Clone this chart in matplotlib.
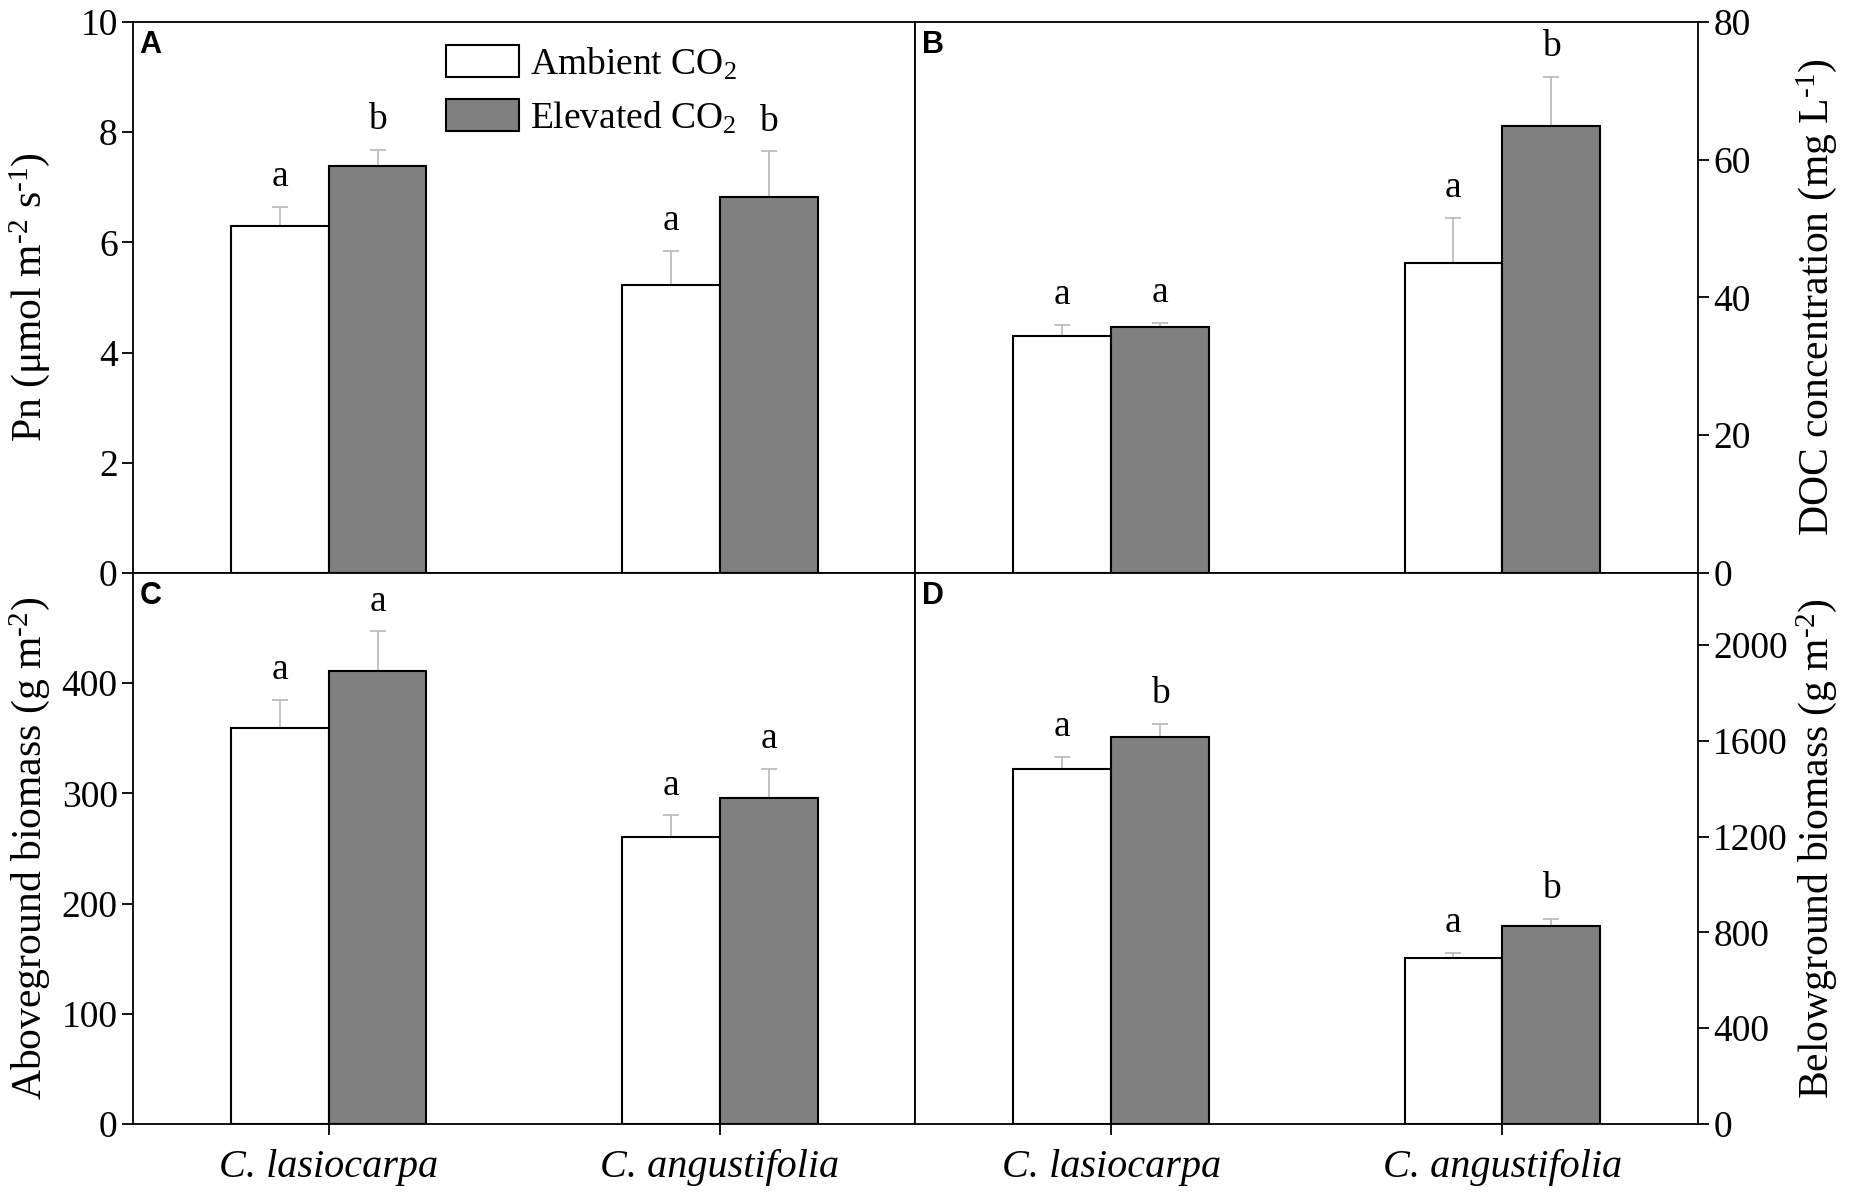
import numpy as np
import matplotlib
matplotlib.use('Agg')
import matplotlib.pyplot as plt
from matplotlib.patches import Patch

plt.rcParams['font.family'] = ['Liberation Serif', 'DejaVu Serif']
plt.rcParams['mathtext.fontset'] = 'custom'
plt.rcParams['mathtext.rm'] = 'Liberation Serif'
plt.rcParams['mathtext.it'] = 'Liberation Serif:italic'

species = ['C. lasiocarpa', 'C. angustifolia']
treatments = ['Ambient CO$_2$', 'Elevated CO$_2$']

# panel A - net photosynthesis
pn_amb = [6.30, 5.23]
pn_amb_se = [0.35, 0.62]
pn_elev = [7.38, 6.83]
pn_elev_se = [0.30, 0.82]
pn_let_amb = ['a', 'a']
pn_let_elev = ['b', 'b']

# panel B - DOC
doc_amb = [34.4, 45.0]
doc_amb_se = [1.6, 6.6]
doc_elev = [35.7, 64.9]
doc_elev_se = [0.6, 7.1]
doc_let_amb = ['a', 'a']
doc_let_elev = ['a', 'b']

# panel C - aboveground biomass
agb_amb = [359, 260]
agb_amb_se = [26, 20]
agb_elev = [411, 296]
agb_elev_se = [36, 26]
agb_let_amb = ['a', 'a']
agb_let_elev = ['a', 'a']

# panel D - belowground biomass
bgb_amb = [1480, 694]
bgb_amb_se = [53, 21]
bgb_elev = [1617, 826]
bgb_elev_se = [52, 31]
bgb_let_amb = ['a', 'a']
bgb_let_elev = ['b', 'b']

FS = 27
GRAY = '#808080'
ECOL = '#b8b8b8'

fig = plt.figure(figsize=(18.5, 11.94), dpi=100)
gs = fig.add_gridspec(2, 2, left=0.0719, right=0.9178, top=0.9816,
                      bottom=0.0586, wspace=0, hspace=0)
axA = fig.add_subplot(gs[0, 0])
axB = fig.add_subplot(gs[0, 1])
axC = fig.add_subplot(gs[1, 0])
axD = fig.add_subplot(gs[1, 1])

x = np.arange(len(species))
w = 0.25


def panel(ax, amb, amb_se, elev, elev_se, la, le, ylim, yticks, side, letter):
    for xs, vals, se, col, lets in [(x - w / 2, amb, amb_se, 'white', la),
                                    (x + w / 2, elev, elev_se, GRAY, le)]:
        ax.bar(xs, vals, w, color=col, edgecolor='black', linewidth=1.5, zorder=2)
        ax.errorbar(xs, vals, yerr=[np.zeros(len(vals)), se], fmt='none',
                    ecolor=ECOL, elinewidth=1.2, capsize=6, capthick=1.2, zorder=1)
        for xi, v, s, t in zip(xs, vals, se, lets):
            ax.annotate(t, (xi, v + s), xytext=(0, 15), textcoords='offset points',
                        ha='center', va='baseline', fontsize=FS)
    ax.set_xlim(-0.5, 1.5)
    ax.set_ylim(*ylim)
    ax.set_yticks(yticks)
    ax.set_xticks(x)
    ax.tick_params(direction='out', length=8, width=1.3, labelsize=FS, pad=3)
    if side == 'right':
        ax.yaxis.tick_right()
        ax.yaxis.set_label_position('right')
    for s in ax.spines.values():
        s.set_linewidth(1.3)
    ax.text(0.008, 0.985, letter, transform=ax.transAxes, ha='left', va='top',
            fontsize=22, fontweight='bold', family='Liberation Sans')


panel(axA, pn_amb, pn_amb_se, pn_elev, pn_elev_se, pn_let_amb, pn_let_elev,
      (0, 10), np.arange(0, 11, 2), 'left', 'A')
panel(axB, doc_amb, doc_amb_se, doc_elev, doc_elev_se, doc_let_amb, doc_let_elev,
      (0, 80), np.arange(0, 81, 20), 'right', 'B')
panel(axC, agb_amb, agb_amb_se, agb_elev, agb_elev_se, agb_let_amb, agb_let_elev,
      (0, 500), np.arange(0, 401, 100), 'left', 'C')
panel(axD, bgb_amb, bgb_amb_se, bgb_elev, bgb_elev_se, bgb_let_amb, bgb_let_elev,
      (0, 2300), np.arange(0, 2001, 400), 'right', 'D')

for ax in (axA, axB):
    ax.set_xticklabels([])
for ax in (axC, axD):
    ax.set_xticklabels(species, fontstyle='italic', fontsize=29)
    ax.tick_params(axis='x', pad=10)

axA.set_ylabel('Pn (μmol m$^{\\text{-2}}$ s$^{\\text{-1}}$)', fontsize=30)
axB.set_ylabel('DOC concentration (mg L$^{\\text{-1}}$)', fontsize=30)
axC.set_ylabel('Aboveground biomass (g m$^{\\text{-2}}$)', fontsize=30)
axD.set_ylabel('Belowground biomass (g m$^{\\text{-2}}$)', fontsize=30)
for ax in (axA, axB, axC, axD):
    ax.yaxis.label.set_va('center')
for ax in (axA, axC):
    ax.yaxis.set_label_coords(-0.132, 0.5)
for ax in (axB, axD):
    ax.yaxis.set_label_coords(1.152, 0.5)

handles = [Patch(facecolor='white', edgecolor='black', linewidth=1.5),
           Patch(facecolor=GRAY, edgecolor='black', linewidth=1.5)]
axA.legend(handles, treatments, loc='upper left', bbox_to_anchor=(0.4, 0.958),
           frameon=False, fontsize=FS, handlelength=1.95, handleheight=0.95,
           handletextpad=0.3, labelspacing=0.45, borderpad=0, borderaxespad=0)

fig.savefig('out.png', dpi=100)
